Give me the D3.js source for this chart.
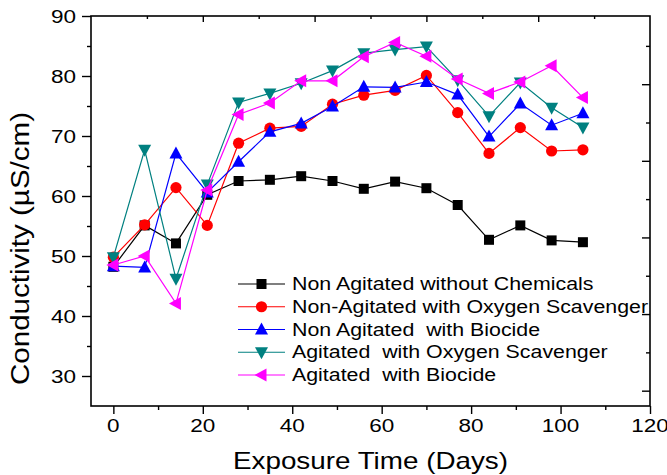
<!DOCTYPE html>
<html>
<head>
<meta charset="utf-8">
<script src="https://cdn.jsdelivr.net/npm/d3@7"></script>
<style>
  html,body{margin:0;padding:0;background:#fff;}
  svg{display:block;}
  text{font-family:"Liberation Sans", Arial, sans-serif;}
</style>
</head>
<body>
<svg id="chart" width="667" height="475"></svg>
<script>
// ---- data ----
const days = [0, 7, 14, 21, 28, 35, 42, 49, 56, 63, 70, 77, 84, 91, 98, 105];
const nonAgitatedNoChem = [48.2, 55.1, 52.1, 60.2, 62.5, 62.7, 63.3, 62.5, 61.2, 62.4, 61.3, 58.5, 52.7, 55.1, 52.6, 52.3];
const nonAgitatedOxygen = [49.8, 55.2, 61.4, 55.1, 68.8, 71.3, 71.6, 75.3, 76.8, 77.6, 80.1, 73.9, 67.1, 71.4, 67.5, 67.7];
const nonAgitatedBiocide = [48.3, 48.1, 67.1, 60.6, 65.7, 70.7, 72.1, 74.9, 78.2, 78.1, 79.0, 76.9, 69.9, 75.4, 71.8, 73.8];
const agitatedOxygen = [49.8, 67.7, 46.2, 61.9, 75.6, 77.1, 78.8, 80.9, 83.8, 84.4, 84.9, 79.3, 73.3, 78.9, 74.7, 71.4];
const agitatedBiocide = [48.5, 50.0, 42.1, 61.0, 73.6, 75.5, 79.2, 79.2, 83.2, 85.6, 83.3, 79.5, 77.1, 79.0, 81.7, 76.4];
const seriesNames = [
  "Non Agitated without Chemicals",
  "Non-Agitated with Oxygen Scavenger",
  "Non Agitated  with Biocide",
  "Agitated  with Oxygen Scavenger",
  "Agitated  with Biocide"
];
const xTicks = [0, 20, 40, 60, 80, 100, 120];
const yTicks = [30, 40, 50, 60, 70, 80, 90];
const xTitle = "Exposure Time (Days)";
const yTitle = "Conductivity (\u00B5S/cm)";

const colors = ["#000000", "#ff0000", "#0000ff", "#008080", "#ff00ff"];
const symbols = ["square", "circle", "triUp", "triDown", "triLeft"];
const allValues = [nonAgitatedNoChem, nonAgitatedOxygen, nonAgitatedBiocide, agitatedOxygen, agitatedBiocide];

// ---- layout ----
const L = 91, R = 650, T = 16, B = 406;
const STRETCH = 1.25;

const svg = d3.select("#chart");
const x = d3.scaleLinear().domain([-5, 120]).range([L, R]);
const y = d3.scaleLinear().domain([25, 90]).range([B, T]);
const xTop = d3.scaleLinear().domain([0, 5]).range([L, R]);
const yRight = d3.scaleLinear().domain([-0.2, 4.89]).range([B, T]);

function stretchText(sel, f) {
  sel.each(function () {
    const w = this.getComputedTextLength();
    d3.select(this).attr("textLength", w * f).attr("lengthAdjust", "spacingAndGlyphs");
  });
}
function fixLength(sel, len) {
  sel.attr("textLength", len).attr("lengthAdjust", "spacingAndGlyphs");
}

// axes
const gBottom = svg.append("g").attr("transform", `translate(0,${B})`);
gBottom.call(d3.axisBottom(x).tickValues(d3.range(0, 121, 10)).tickSize(4).tickFormat(""));
gBottom.call(g => g.selectAll(".tick line").filter(d => d % 20 === 0).attr("y2", 8));
gBottom.selectAll(".domain").remove();

const gLeft = svg.append("g").attr("transform", `translate(${L},0)`);
gLeft.call(d3.axisLeft(y).tickValues(d3.range(30, 91, 5)).tickSize(4).tickFormat(""));
gLeft.call(g => g.selectAll(".tick line").filter(d => d % 10 === 0).attr("x2", -9));
gLeft.selectAll(".domain").remove();

const gTop = svg.append("g").attr("transform", `translate(0,${T})`);
gTop.call(d3.axisTop(xTop).tickValues(d3.range(0.5, 5, 0.5)).tickSize(-3).tickFormat(""));
gTop.call(g => g.selectAll(".tick line").filter(d => Number.isInteger(d)).attr("y2", 6));
gTop.selectAll(".domain").remove();

const gRight = svg.append("g").attr("transform", `translate(${R},0)`);
gRight.call(d3.axisRight(yRight).tickValues(d3.range(0, 5, 0.5)).tickSize(-4).tickFormat(""));
gRight.call(g => g.selectAll(".tick line").filter(d => Number.isInteger(d)).attr("x2", -8));
gRight.selectAll(".domain").remove();

svg.selectAll(".tick line").attr("stroke", "#000").attr("stroke-width", 1.4);

// frame
svg.append("rect").attr("x", L).attr("y", T).attr("width", R - L).attr("height", B - T)
  .attr("fill", "none").attr("stroke", "#000").attr("stroke-width", 1.6);

// tick labels
svg.append("g").selectAll("text").data(xTicks).join("text")
  .attr("x", d => x(d)).attr("y", B + 26).attr("text-anchor", "middle")
  .attr("font-size", 18).text(d => d).call(stretchText, STRETCH);
svg.append("g").selectAll("text").data(yTicks).join("text")
  .attr("x", L - 15).attr("y", d => y(d) + 6.5).attr("text-anchor", "end")
  .attr("font-size", 18).text(d => d).call(stretchText, STRETCH);

// titles
svg.append("text").attr("x", 370.5).attr("y", 469).attr("text-anchor", "middle")
  .attr("font-size", 24).text(xTitle).call(fixLength, 275);
svg.append("text").attr("transform", `translate(29,248.5) rotate(-90)`)
  .attr("text-anchor", "middle").attr("font-size", 26).text(yTitle).call(fixLength, 273);

// symbols
function drawSymbol(g, type, cx, cy, color) {
  if (type === "square") {
    g.append("rect").attr("x", cx - 5).attr("y", cy - 5).attr("width", 10).attr("height", 10).attr("fill", color);
  } else if (type === "circle") {
    g.append("circle").attr("cx", cx).attr("cy", cy).attr("r", 5.6).attr("fill", color);
  } else {
    let pts;
    if (type === "triUp") pts = [[cx, cy - 7], [cx - 6.5, cy + 5], [cx + 6.5, cy + 5]];
    else if (type === "triDown") pts = [[cx, cy + 7], [cx - 6.5, cy - 5], [cx + 6.5, cy - 5]];
    else pts = [[cx - 7, cy], [cx + 5, cy - 6.5], [cx + 5, cy + 6.5]];
    g.append("polygon").attr("points", pts.map(p => p.join(",")).join(" ")).attr("fill", color);
  }
}

const line = d3.line().x((d, i) => x(days[i])).y(d => y(d));
allValues.forEach((vals, k) => {
  const g = svg.append("g");
  g.append("path").datum(vals).attr("d", line).attr("fill", "none")
    .attr("stroke", colors[k]).attr("stroke-width", 1.2);
  vals.forEach((v, i) => drawSymbol(g, symbols[k], x(days[i]), y(v), colors[k]));
});

// legend
const legX0 = 238, legX1 = 285, legY0 = 284, legDy = 22.75;
seriesNames.forEach((name, k) => {
  const g = svg.append("g");
  const yy = legY0 + k * legDy;
  g.append("line").attr("x1", legX0).attr("x2", legX1).attr("y1", yy).attr("y2", yy)
    .attr("stroke", colors[k]).attr("stroke-width", 1.2);
  drawSymbol(g, symbols[k], (legX0 + legX1) / 2, yy, colors[k]);
  g.append("text").attr("x", 292).attr("y", yy + 6).attr("font-size", 17.5)
    .style("white-space", "pre").text(name).call(stretchText, 1.22);
});
</script>
</body>
</html>
